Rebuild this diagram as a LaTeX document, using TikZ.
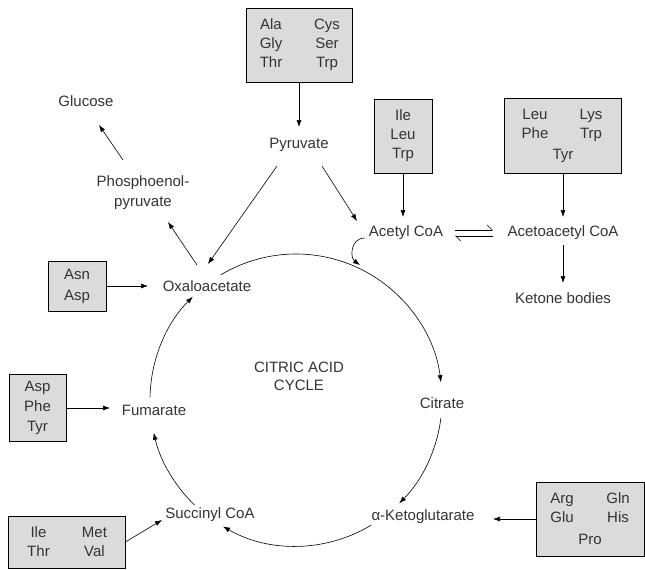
\documentclass[tikz,border=0pt]{standalone}
\usepackage{fontspec}
\setmainfont{Liberation Sans}
\usetikzlibrary{arrows.meta,calc}
\definecolor{txtgray}{gray}{0.2}
\definecolor{boxgray}{gray}{0.86}
\newcommand{\twocol}[2]{\makebox[48pt]{#1}\hspace{8pt}\makebox[48pt]{#2}}

\begin{document}
\begin{tikzpicture}[x=1pt,y=-1pt,font=\fontsize{15}{19}\selectfont,
  every node/.append style={text=txtgray},
  aabox/.style={draw=black,fill=boxgray,line width=0.8pt,inner sep=0pt,align=center},
  arr/.style={-{Latex[length=7pt,width=5pt]},line width=0.6pt}]
\useasboundingbox (0,0) rectangle (645,570);
 % compounds
 \begin{scope}[every node/.style={align=center,inner sep=2pt,text=txtgray}]
   \node (glucose) at (86,101) {Glucose};
   \node (pep) at (143,193) {Phosphoenol-\\[1pt]pyruvate};
   \node (pyr) at (299,145) {Pyruvate};
   \node (oxa) at (207,286) {Oxaloacetate};
   \node (acetyl) at (406,233) {Acetyl CoA};
   \node (acac) at (563,233) {Acetoacetyl CoA};
   \node (ketone) at (563,298) {Ketone bodies};
   \node (cit) at (442,403) {Citrate};
   \node (akg) at (423,517) {α-Ketoglutarate};
   \node (succ) at (210,515) {Succinyl CoA};
   \node (fum) at (154,410) {Fumarate};
   \node (cycle) at (299,376) {CITRIC ACID\\[-1pt]CYCLE};
 \end{scope}
 % amino acids
 \node (aa1) [aabox,minimum width=106pt,minimum height=74pt] at (299,45) {\twocol{Ala}{Cys}\\\twocol{Gly}{Ser}\\\twocol{Thr}{Trp}};
 \node (aa2) [aabox,minimum width=58pt,minimum height=74pt] at (403,136) {Ile\\Leu\\Trp};
 \node (aa3) [aabox,minimum width=117pt,minimum height=75pt] at (563,135.5) {\twocol{Leu}{Lys}\\\twocol{Phe}{Trp}\\[2pt]Tyr};
 \node (aa4) [aabox,minimum width=58pt,minimum height=50pt] at (77,286) {Asn\\[2pt]Asp};
 \node (aa5) [aabox,minimum width=57pt,minimum height=67pt] at (37.5,408) {Asp\\[1pt]Phe\\[1pt]Tyr};
 \node (aa6) [aabox,minimum width=117pt,minimum height=52pt] at (66.5,542) {\twocol{Ile}{Met}\\\twocol{Thr}{Val}};
 \node (aa7) [aabox,minimum width=108pt,minimum height=74pt] at (590,519) {\twocol{Arg}{Gln}\\\twocol{Glu}{His}\\[3pt]Pro};

 \coordinate (cyc) at (296,400);
 \begin{scope}[every path/.style={arr}]
   \draw (aa1.south) -- ($(pyr)+(0,-18)$);
   \draw ($(pep)+(-20,-33)$) -- ($(glucose)+(13,24)$);
   \draw ($(oxa)+(-10,-21)$) -- ($(pep)+(25,29)$);
   \draw ($(pyr)+(-22,21)$) -- ($(oxa)+(1,-22)$);
   \draw ($(pyr)+(23,21)$) -- ($(acetyl)+(-49,-12)$);
   \draw (aa2.south) -- ($(acetyl)+(-3,-16)$);
   \draw (aa3.south) -- ($(acac)+(0,-16)$);
   \draw ($(acac)+(0,12)$) -- ($(ketone)+(0,-15)$);
   \draw ($(acetyl)+(-41,5)$) .. controls +(-15,0) and +(-10,-7) .. ($(acetyl)+(-46,32)$);
   \draw (aa4.east) -- ($(oxa)+(-59,0)$);
   \draw (aa5.east) -- ($(fum)+(-44,-2)$);
   \draw (aa6.east) -- ($(succ)+(-48,5)$);
   \draw (aa7.west) -- ($(akg)+(70,2)$);
   % the cycle
   \draw ([shift={(-121:146)}]cyc) arc[start angle=-121,end angle=-7,radius=146];
   \draw ([shift={(7:146)}]cyc) arc[start angle=7,end angle=45,radius=146];
   \draw ([shift={(59:146)}]cyc) arc[start angle=59,end angle=120,radius=146];
   \draw ([shift={(134:146)}]cyc) arc[start angle=134,end angle=167,radius=146];
   \draw ([shift={(181:146)}]cyc) arc[start angle=181,end angle=225,radius=146];
 \end{scope}
 \draw[-{Straight Barb[left,length=5pt]},line width=0.6pt] ($(acetyl)+(49,-3)$) -- ($(acac)+(-70,-3)$);
 \draw[-{Straight Barb[left,length=5pt]},line width=0.6pt] ($(acac)+(-70,3)$) -- ($(acetyl)+(49,3)$);
\end{tikzpicture}
\end{document}
